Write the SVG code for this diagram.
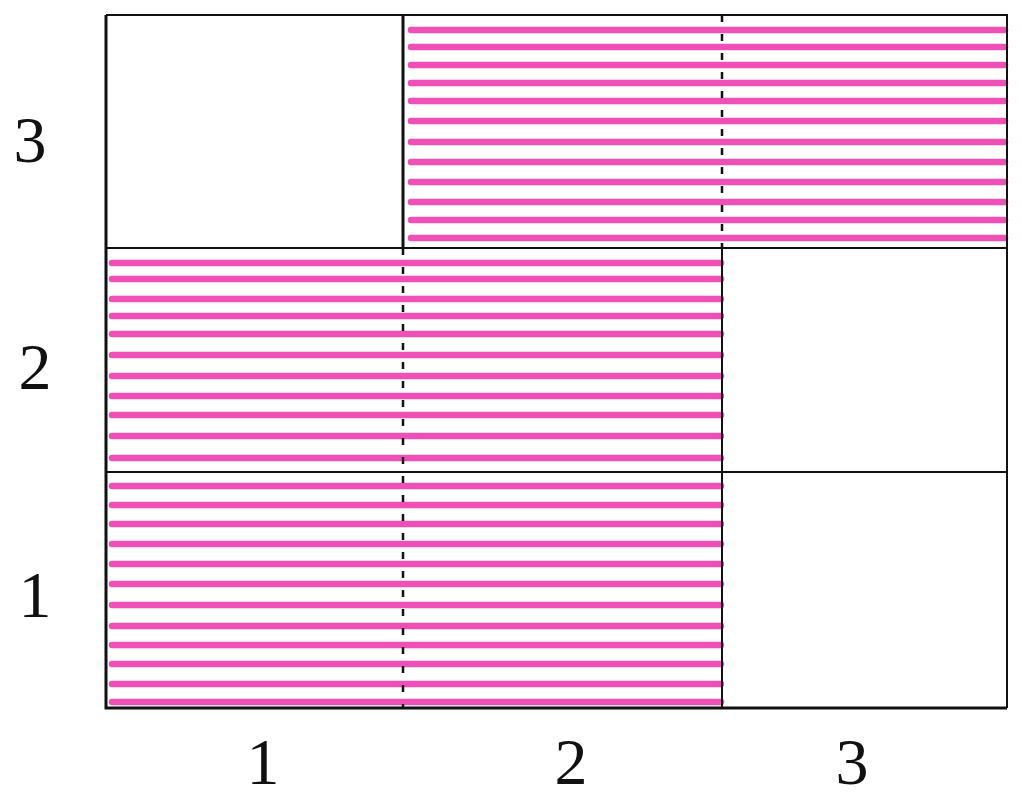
<svg xmlns="http://www.w3.org/2000/svg" width="1022" height="796" viewBox="0 0 1022 796">
<defs>
<style>
.st{stroke:#ee50b8;stroke-width:6.5;stroke-linecap:round;fill:none}
.ln{stroke:#111;stroke-width:2;fill:none}
.bd{stroke:#111;stroke-width:3;fill:none}
.ds{stroke:#111;stroke-width:2.5;stroke-dasharray:7 12;fill:none}
.lb{font-family:"Liberation Serif","Times New Roman",serif;font-size:66px;fill:#111;text-anchor:middle}
</style>
</defs>
<rect width="1022" height="796" fill="#fff"/>
<g id="stripes-top">
<path class="st" d="M411 30H1005M411 47H1005M411 65H1005M411 83H1005M411 101H1005M411 121H1005M411 142H1005M411 162H1005M411 182H1005M411 202H1005M411 220H1005M411 238H1005"/>
</g>
<g id="stripes-middle">
<path class="st" d="M112 263H721M112 279H721M112 299H721M112 316H721M112 334H721M112 355H721M112 376H721M112 396H721M112 415H721M112 436H721M112 458H721"/>
</g>
<g id="stripes-bottom">
<path class="st" d="M112 486H721M112 505H721M112 524H721M112 544H721M112 564H721M112 584H721M112 605H721M112 626H721M112 645H721M112 664H721M112 684H721M112 702H721"/>
</g>
<g id="grid">
<path class="bd" d="M106 15V708H1007"/>
<path class="ln" d="M106 15H1007V708"/>
<path class="ln" d="M106 248H1007M106 472H1007"/>
<path class="bd" d="M403 15V248"/>
<path class="ds" d="M403 248V708"/>
<path class="ds" d="M722 15V248"/>
<path class="ln" d="M722 248V708"/>
</g>
<g id="labels">
<text class="lb" x="30" y="162">3</text>
<text class="lb" x="35" y="389">2</text>
<text class="lb" x="35" y="617">1</text>
<text class="lb" x="263" y="784">1</text>
<text class="lb" x="571" y="784">2</text>
<text class="lb" x="852" y="784">3</text>
</g>
</svg>
